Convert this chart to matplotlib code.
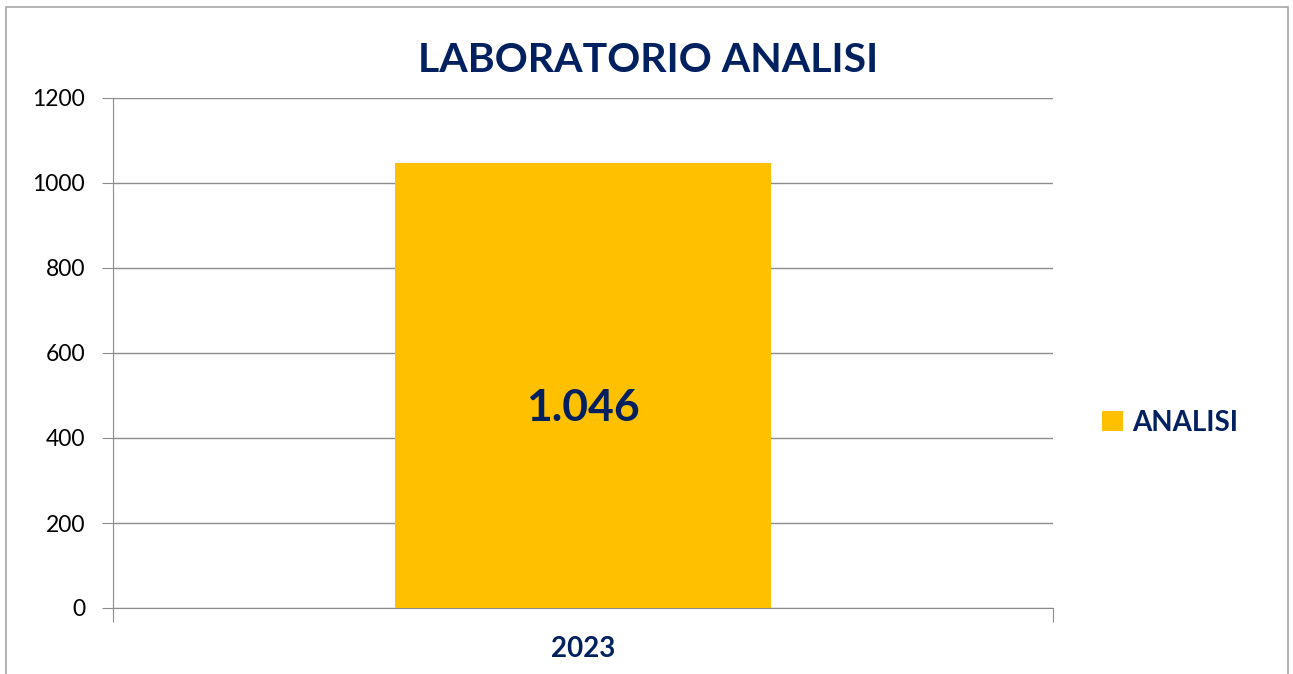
import matplotlib
matplotlib.use("Agg")
import matplotlib.pyplot as plt
from matplotlib.patches import Rectangle

plt.rcParams["font.family"] = ["Lato", "DejaVu Sans"]

NAVY = "#002060"
GOLD = "#FFC000"
GRID = "#8C8C8C"

years = ["2023"]
analisi = [1046]
value_labels = ["1.046"]

fig = plt.figure(figsize=(12.93, 6.74), dpi=100)
ax = fig.add_axes([113 / 1293, 1 - 608 / 674, 940 / 1293, 510 / 674])

bars = ax.bar([0], analisi, width=0.4, color=GOLD, label="ANALISI", zorder=3)
for b, lab in zip(bars, value_labels):
    ax.text(b.get_x() + b.get_width() / 2, b.get_height() * 0.45, lab,
            ha="center", va="center", fontsize=32, fontweight="bold", color=NAVY, zorder=4)

ax.set_xlim(-0.5, 0.5)
ax.set_ylim(0, 1200)
ax.set_yticks(range(0, 1201, 200))
ax.tick_params(axis="y", length=8, color=GRID, labelsize=16.5, pad=12, labelcolor="black")
ax.yaxis.grid(True, color=GRID, lw=1.0, zorder=0)
ax.set_xticks([-0.5, 0.5])
ax.set_xticklabels([])
ax.tick_params(axis="x", length=10, color=GRID)
for i, y in enumerate(years):
    ax.text(i, -0.08, y, transform=ax.get_xaxis_transform(), ha="center", va="center",
            fontsize=20, fontweight="bold", color=NAVY)

for s in ["top", "right"]:
    ax.spines[s].set_visible(False)
ax.spines["left"].set_color(GRID)
ax.spines["bottom"].set_color(GRID)

fig.text(648 / 1293, 1 - 60 / 674, "LABORATORIO ANALISI", ha="center", va="center",
         fontsize=29.5, fontweight="bold", color=NAVY)

leg = fig.legend(handles=[bars], labels=["ANALISI"], loc="center left",
                 bbox_to_anchor=(1077 / 1293, 1 - 423 / 674), frameon=False,
                 handlelength=0.75, handleheight=0.75, handletextpad=0.35,
                 prop={"size": 20, "weight": "bold"})
for t in leg.get_texts():
    t.set_color(NAVY)

fig.patches.append(Rectangle((6 / 1293, -0.01), 1282 / 1293, 1 - 7 / 674 + 0.01,
                             transform=fig.transFigure, fill=False, ec="#A6A6A6", lw=1.2))

fig.savefig("out.png", dpi=100)
